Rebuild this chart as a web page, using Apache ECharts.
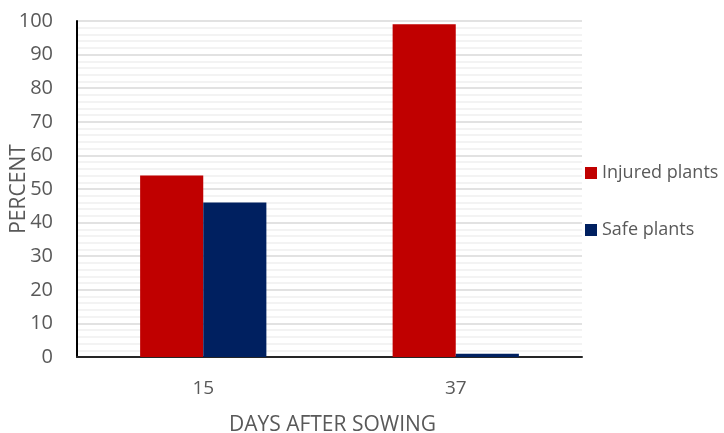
<!DOCTYPE html>
<html>
<head>
<meta charset="utf-8">
<script src="https://cdn.jsdelivr.net/npm/echarts@6/dist/echarts.min.js"></script>
<style>
  html, body { margin: 0; padding: 0; background: #fff; }
  #chart { width: 724px; height: 433px; }
</style>
</head>
<body>
<div id="chart"></div>
<script>
// Share of injured vs. safe plants at two sampling dates
const days = ['15', '37'];
const injuredPlants = [54, 99];
const safePlants = [46, 1];
const yTicks = { min: 0, max: 100, interval: 10 };

const chart = echarts.init(document.getElementById('chart'), null, { renderer: 'canvas' });
const font = '"Open Sans", "Liberation Sans", sans-serif';

chart.setOption({
  backgroundColor: '#ffffff',
  animation: false,
  grid: { left: 77, right: 142, top: 21, bottom: 76, containLabel: false, outerBoundsMode: 'none' },
  legend: {
    orient: 'vertical',
    left: 580,
    top: 159,
    itemWidth: 12,
    itemHeight: 12,
    itemGap: 39,
    icon: 'rect',
    textStyle: { color: '#595959', fontSize: 18, fontFamily: font },
    data: ['Injured plants', 'Safe plants']
  },
  xAxis: {
    type: 'category',
    data: days,
    name: 'DAYS AFTER SOWING',
    nameLocation: 'middle',
    nameGap: 58,
    nameMoveOverlap: false,
    nameTextStyle: { color: '#595959', fontSize: 21, fontFamily: font, padding: [0, 0, 0, 6] },
    axisLine: { show: true, lineStyle: { color: '#262626', width: 2 } },
    axisTick: { show: false },
    axisLabel: { color: '#595959', fontSize: 19, fontFamily: font, margin: 22 }
  },
  yAxis: {
    type: 'value',
    min: yTicks.min,
    max: yTicks.max,
    interval: yTicks.interval,
    name: 'PERCENT',
    nameLocation: 'middle',
    nameGap: 47,
    nameRotate: 90,
    nameMoveOverlap: false,
    nameTextStyle: { color: '#595959', fontSize: 21, fontFamily: font },
    axisLine: { show: true, lineStyle: { color: '#000000', width: 2 } },
    axisTick: { show: false },
    axisLabel: { color: '#595959', fontSize: 20, fontFamily: font, margin: 24 },
    splitLine: { show: true, lineStyle: { color: '#d9d9d9', width: 1.5 } },
    minorTick: { show: false, splitNumber: 5 },
    minorSplitLine: { show: true, lineStyle: { color: '#efefef', width: 1.5 } }
  },
  series: [
    {
      name: 'Injured plants',
      type: 'bar',
      data: injuredPlants,
      barGap: '0%',
      barCategoryGap: '50%',
      itemStyle: { color: '#c00000' }
    },
    {
      name: 'Safe plants',
      type: 'bar',
      data: safePlants,
      itemStyle: { color: '#002060' }
    }
  ]
});
</script>
</body>
</html>
